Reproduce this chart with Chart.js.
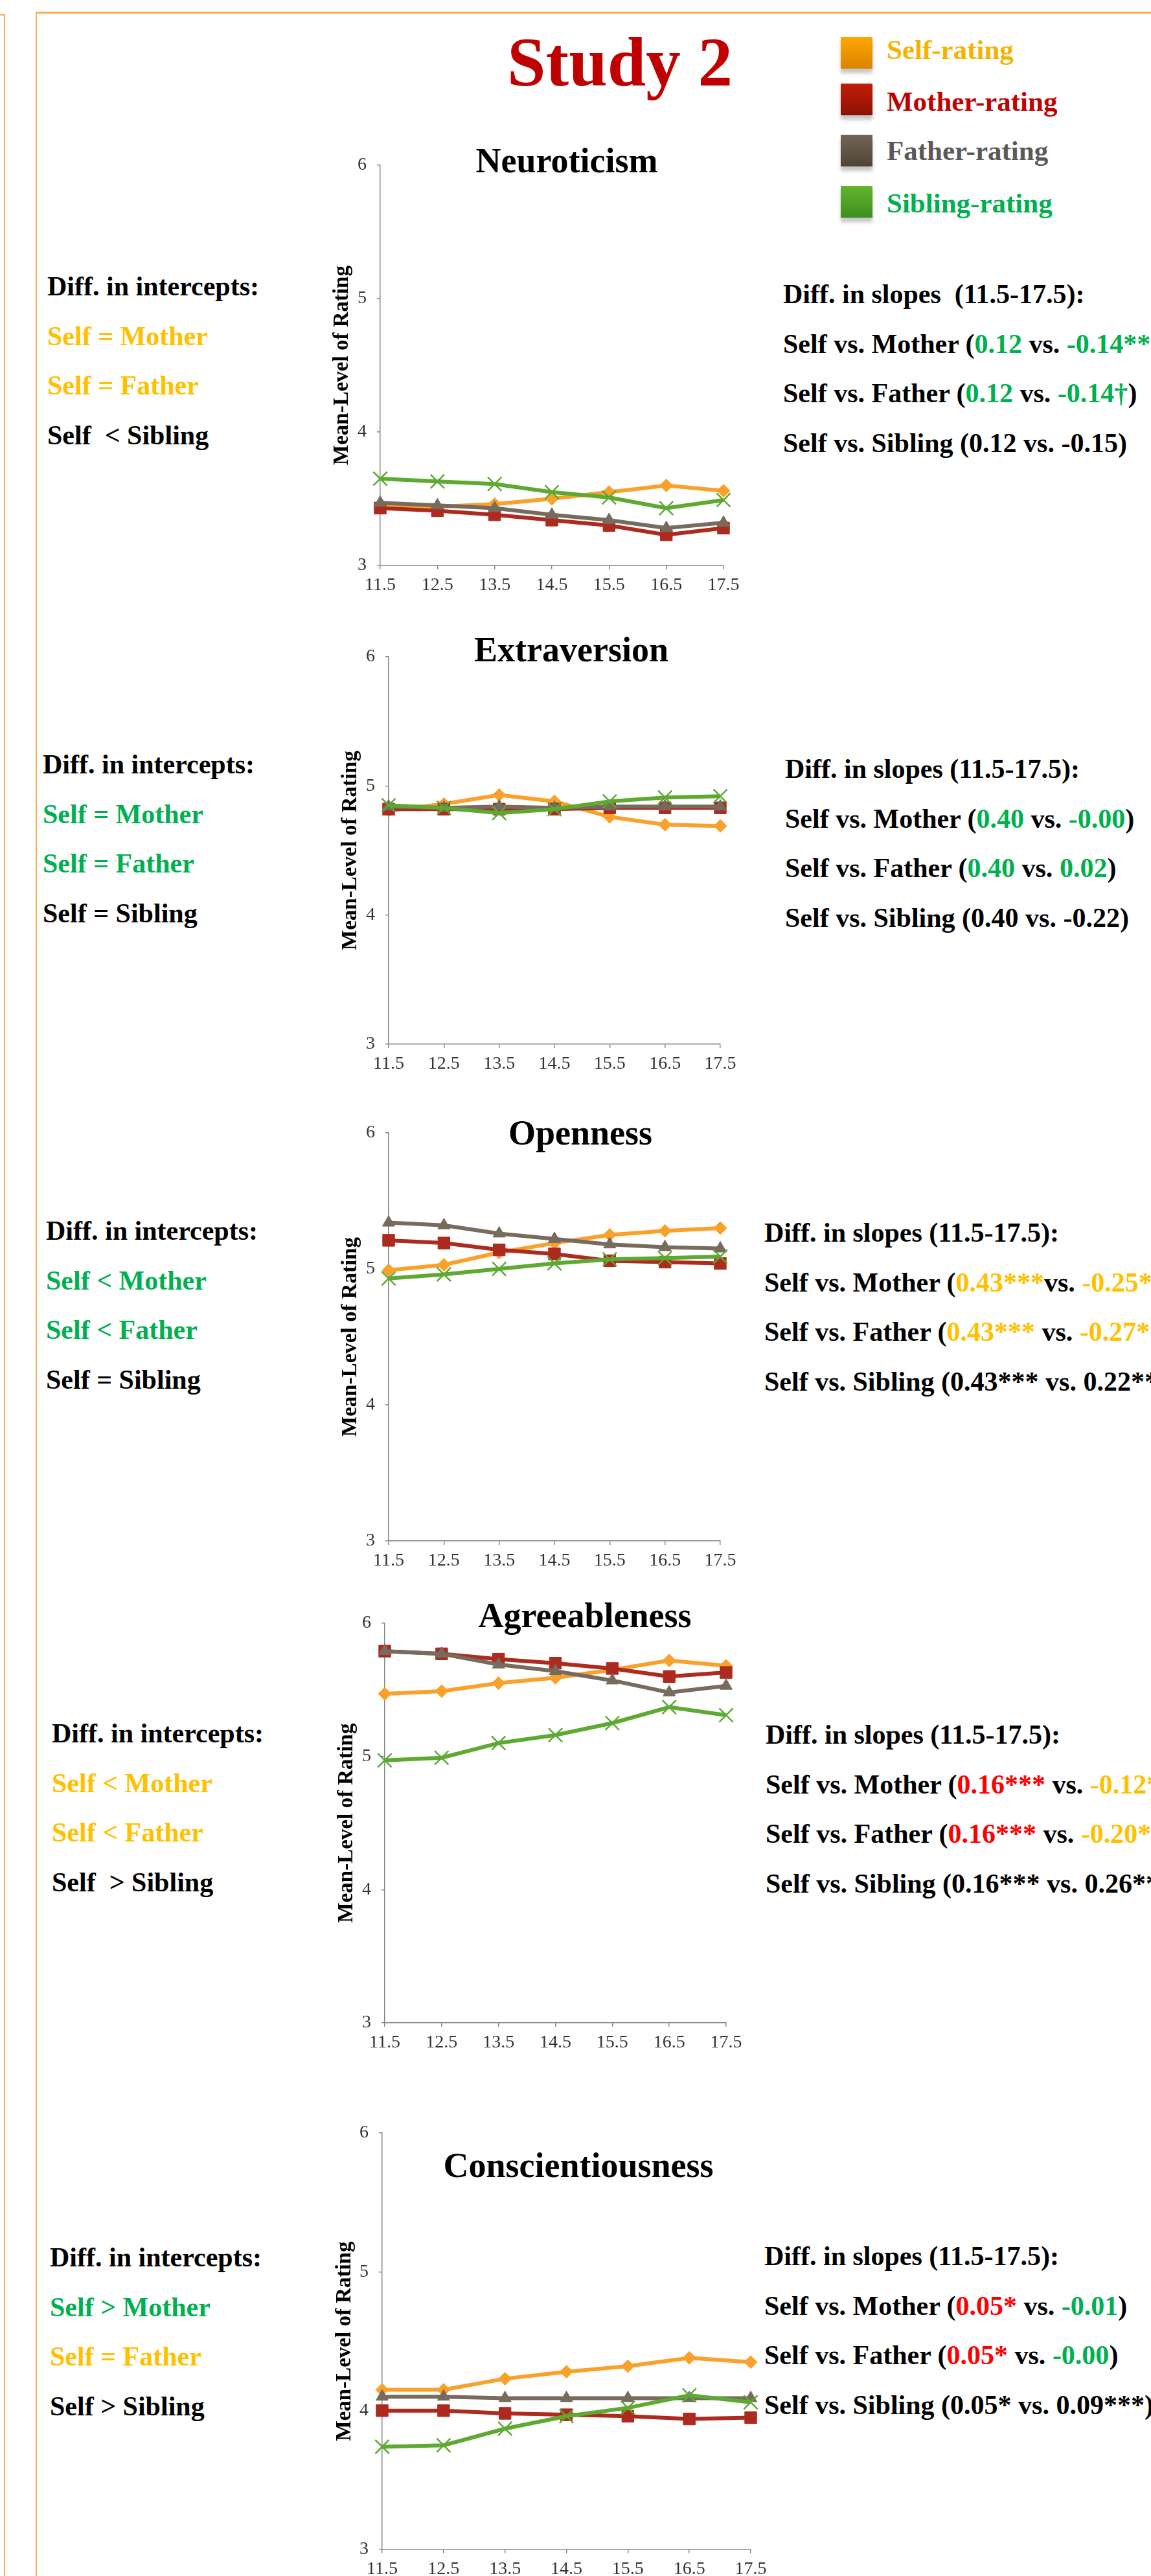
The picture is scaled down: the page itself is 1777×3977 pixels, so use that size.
<!DOCTYPE html>
<html>
<head>
<meta charset="utf-8">
<script src="https://cdn.jsdelivr.net/npm/chart.js@4.4.1/dist/chart.umd.min.js"></script>
<style>
  html, body { margin: 0; padding: 0; background: #fff; }
  body { width: 1777px; height: 3977px; position: relative; overflow: hidden;
         font-family: "Liberation Serif", "Times New Roman", serif; }
  .frame { position: absolute; background: #F9AC52; }
  canvas { position: absolute; }
  .note { position: absolute; font-weight: bold; font-size: 42px; line-height: 76.5px; white-space: pre; }
  .trait { position: absolute; font-weight: bold; font-size: 54px; line-height: 54px; white-space: pre;
           transform: translateX(-50%); color: #000; }
  .study { position: absolute; font-weight: bold; font-size: 107px; line-height: 107px; color: #C00000;
           transform: translateX(-50%); white-space: pre; }
  .swatch { position: absolute; width: 49px; height: 49px; box-shadow: 0 7px 5px rgba(0,0,0,0.22); }
  .legtext { position: absolute; font-weight: bold; font-size: 43px; line-height: 43px; white-space: pre; }
</style>
</head>
<body>

<div class="frame" style="left:6px; top:22px; width:2px; height:3955px;"></div>
<div class="frame" style="left:0; top:22px; width:8px; height:2px;"></div>
<div class="frame" style="left:55px; top:18px; width:2px; height:3959px;"></div>
<div class="frame" style="left:55px; top:18px; width:1722px; height:3px;"></div>

<script>
// x categories (age) and y ticks
const ages = ["11.5", "12.5", "13.5", "14.5", "15.5", "16.5", "17.5"];
const yTicks = [3, 4, 5, 6];
const seriesNames = ["Self-rating", "Mother-rating", "Father-rating", "Sibling-rating"];
const traits = ["Neuroticism", "Extraversion", "Openness", "Agreeableness", "Conscientiousness"];

// Neuroticism
const neuroSelf    = [3.45, 3.44, 3.46, 3.50, 3.55, 3.60, 3.56];
const neuroMother  = [3.43, 3.41, 3.38, 3.34, 3.30, 3.23, 3.28];
const neuroFather  = [3.47, 3.45, 3.43, 3.38, 3.34, 3.28, 3.32];
const neuroSibling = [3.65, 3.63, 3.61, 3.55, 3.51, 3.43, 3.49];

// Extraversion
const extraSelf    = [4.81, 4.86, 4.93, 4.88, 4.76, 4.70, 4.69];
const extraMother  = [4.82, 4.82, 4.82, 4.82, 4.83, 4.83, 4.83];
const extraFather  = [4.84, 4.83, 4.84, 4.83, 4.84, 4.84, 4.84];
const extraSibling = [4.85, 4.83, 4.79, 4.82, 4.88, 4.91, 4.92];

// Openness
const openSelf    = [4.99, 5.03, 5.12, 5.19, 5.25, 5.28, 5.30];
const openMother  = [5.21, 5.19, 5.14, 5.11, 5.06, 5.05, 5.04];
const openFather  = [5.34, 5.32, 5.26, 5.22, 5.18, 5.16, 5.15];
const openSibling = [4.93, 4.96, 5.00, 5.04, 5.07, 5.08, 5.09];

// Agreeableness
const agreeSelf    = [5.47, 5.49, 5.55, 5.59, 5.65, 5.72, 5.68];
const agreeMother  = [5.79, 5.77, 5.73, 5.70, 5.66, 5.60, 5.63];
const agreeFather  = [5.79, 5.77, 5.69, 5.64, 5.57, 5.48, 5.53];
const agreeSibling = [4.97, 4.99, 5.10, 5.16, 5.25, 5.37, 5.31];

// Conscientiousness
const consSelf    = [4.15, 4.15, 4.23, 4.28, 4.32, 4.38, 4.35];
const consMother  = [4.00, 4.00, 3.98, 3.97, 3.96, 3.94, 3.95];
const consFather  = [4.10, 4.10, 4.09, 4.09, 4.09, 4.09, 4.09];
const consSibling = [3.74, 3.75, 3.87, 3.96, 4.02, 4.11, 4.06];

const traitData = [
  [neuroSelf, neuroMother, neuroFather, neuroSibling],
  [extraSelf, extraMother, extraFather, extraSibling],
  [openSelf, openMother, openFather, openSibling],
  [agreeSelf, agreeMother, agreeFather, agreeSibling],
  [consSelf, consMother, consFather, consSibling]
];

// ---- styles and layout ----
const seriesStyle = [
  { color: "#F9A12A", point: "rectRot",  radius: 10, border: 1 },
  { color: "#AD2A1E", point: "rect",     radius: 13, border: 1 },
  { color: "#766B5D", point: "triangle", radius: 11, border: 1 },
  { color: "#5DA932", point: "crossRot", radius: 15, border: 2.5 }
];
const swatchFill = [
  "linear-gradient(#FFA600, #DC8400)",
  "linear-gradient(#C21E08, #8C1204)",
  "linear-gradient(#716654, #4F4536)",
  "linear-gradient(#62B42E, #3F8F1F)"
];
const legendTextColor = ["#F5B300", "#C00000", "#595959", "#00B050"];

// plot box of each panel: axis left/right x, y of "6" and "3"
const panels = [
  { L: 587, R: 1117, T: 254.5, B: 873,  titleX: 875, titleBase: 266,  yTitleX: 528 },
  { L: 600, R: 1112, T: 1014,  B: 1612, titleX: 882, titleBase: 1021, yTitleX: 541 },
  { L: 600, R: 1112, T: 1749,  B: 2379, titleX: 896, titleBase: 1767, yTitleX: 541 },
  { L: 594, R: 1121, T: 2506,  B: 3123, titleX: 903, titleBase: 2512, yTitleX: 535 },
  { L: 590, R: 1159, T: 3293,  B: 3936, titleX: 893, titleBase: 3361, yTitleX: 532 }
];

const YEL = "#FFC000", GRN = "#00B050", RED = "#FF0000", BLK = "#000000";

const leftNotes = [
  { x: 73, top: 404, lines: [[["Diff. in intercepts:", BLK]], [["Self = Mother", YEL]], [["Self = Father", YEL]], [["Self  < Sibling", BLK]]] },
  { x: 66, top: 1142, lines: [[["Diff. in intercepts:", BLK]], [["Self = Mother", GRN]], [["Self = Father", GRN]], [["Self = Sibling", BLK]]] },
  { x: 71, top: 1862, lines: [[["Diff. in intercepts:", BLK]], [["Self < Mother", GRN]], [["Self < Father", GRN]], [["Self = Sibling", BLK]]] },
  { x: 80, top: 2638, lines: [[["Diff. in intercepts:", BLK]], [["Self < Mother", YEL]], [["Self < Father", YEL]], [["Self  > Sibling", BLK]]] },
  { x: 77, top: 3447, lines: [[["Diff. in intercepts:", BLK]], [["Self > Mother", GRN]], [["Self = Father", YEL]], [["Self > Sibling", BLK]]] }
];

const rightNotes = [
  { x: 1209, top: 416, lines: [
    [["Diff. in slopes  (11.5-17.5):", BLK]],
    [["Self vs. Mother (", BLK], ["0.12", GRN], [" vs. ", BLK], ["-0.14**", GRN], [")", BLK]],
    [["Self vs. Father (", BLK], ["0.12", GRN], [" vs. ", BLK], ["-0.14\u2020", GRN], [")", BLK]],
    [["Self vs. Sibling (0.12 vs. -0.15)", BLK]] ] },
  { x: 1212, top: 1149, lines: [
    [["Diff. in slopes (11.5-17.5):", BLK]],
    [["Self vs. Mother (", BLK], ["0.40", GRN], [" vs. ", BLK], ["-0.00", GRN], [")", BLK]],
    [["Self vs. Father (", BLK], ["0.40", GRN], [" vs. ", BLK], ["0.02", GRN], [")", BLK]],
    [["Self vs. Sibling (0.40 vs. -0.22)", BLK]] ] },
  { x: 1180, top: 1865, lines: [
    [["Diff. in slopes (11.5-17.5):", BLK]],
    [["Self vs. Mother (", BLK], ["0.43***", YEL], ["vs. ", BLK], ["-0.25***", YEL], [")", BLK]],
    [["Self vs. Father (", BLK], ["0.43***", YEL], [" vs. ", BLK], ["-0.27***", YEL], [")", BLK]],
    [["Self vs. Sibling (0.43*** vs. 0.22***)", BLK]] ] },
  { x: 1182, top: 2640, lines: [
    [["Diff. in slopes (11.5-17.5):", BLK]],
    [["Self vs. Mother (", BLK], ["0.16***", RED], [" vs. ", BLK], ["-0.12**", YEL], [")", BLK]],
    [["Self vs. Father (", BLK], ["0.16***", RED], [" vs. ", BLK], ["-0.20***", YEL], [")", BLK]],
    [["Self vs. Sibling (0.16*** vs. 0.26***)", BLK]] ] },
  { x: 1180, top: 3445, lines: [
    [["Diff. in slopes (11.5-17.5):", BLK]],
    [["Self vs. Mother (", BLK], ["0.05*", RED], [" vs. ", BLK], ["-0.01", GRN], [")", BLK]],
    [["Self vs. Father (", BLK], ["0.05*", RED], [" vs. ", BLK], ["-0.00", GRN], [")", BLK]],
    [["Self vs. Sibling (0.05* vs. 0.09***)", BLK]] ] }
];

function addNote(note) {
  const div = document.createElement("div");
  div.className = "note";
  div.style.left = note.x + "px";
  div.style.top = note.top + "px";
  note.lines.forEach(function (line) {
    const row = document.createElement("div");
    line.forEach(function (seg) {
      const s = document.createElement("span");
      s.textContent = seg[0];
      s.style.color = seg[1];
      row.appendChild(s);
    });
    div.appendChild(row);
  });
  document.body.appendChild(div);
}
leftNotes.forEach(addNote);
rightNotes.forEach(addNote);

// Study title and legend
const study = document.createElement("div");
study.className = "study";
study.textContent = "Study 2";
study.style.left = "957px";
study.style.top = (133 - 0.8375 * 107) + "px";
document.body.appendChild(study);

const legendTop = [57, 129, 208, 287];
const legendBase = [91, 171, 247, 328];
seriesNames.forEach(function (name, i) {
  const sw = document.createElement("div");
  sw.className = "swatch";
  sw.style.left = "1298px";
  sw.style.top = legendTop[i] + "px";
  sw.style.background = swatchFill[i];
  document.body.appendChild(sw);

  const t = document.createElement("div");
  t.className = "legtext";
  t.textContent = name;
  t.style.left = "1369px";
  t.style.top = (legendBase[i] - 0.8375 * 43) + "px";
  t.style.color = legendTextColor[i];
  document.body.appendChild(t);
});

// ---- charts ----
Chart.defaults.font.family = '"Liberation Serif", "Times New Roman", serif';
const AXIS = "#868686";
const CANVAS_LEFT = 470, PAD_TOP = 40, PAD_RIGHT = 50, X_AXIS_H = 70;

panels.forEach(function (p, k) {
  // trait title
  const tt = document.createElement("div");
  tt.className = "trait";
  tt.textContent = traits[k];
  tt.style.left = p.titleX + "px";
  tt.style.top = (p.titleBase - 0.8375 * 54) + "px";
  tt.style.zIndex = 2;

  const canvas = document.createElement("canvas");
  const w = p.R - CANVAS_LEFT + PAD_RIGHT;
  const h = p.B - p.T + PAD_TOP + X_AXIS_H;
  canvas.width = w;
  canvas.height = h;
  canvas.style.left = CANVAS_LEFT + "px";
  canvas.style.top = (p.T - PAD_TOP) + "px";
  canvas.style.width = w + "px";
  canvas.style.height = h + "px";
  document.body.appendChild(canvas);
  document.body.appendChild(tt);

  const yAxisW = p.L - CANVAS_LEFT;
  const yTitleFont = 33;

  const datasets = traitData[k].map(function (values, i) {
    const st = seriesStyle[i];
    return {
      label: seriesNames[i],
      data: values,
      borderColor: st.color,
      backgroundColor: st.color,
      borderWidth: 6,
      pointStyle: st.point,
      pointRadius: st.radius,
      pointBorderWidth: st.border,
      pointBackgroundColor: st.color,
      pointBorderColor: st.color,
      tension: 0,
      clip: false,
      order: 4 - i
    };
  });

  new Chart(canvas.getContext("2d"), {
    type: "line",
    data: { labels: ages, datasets: datasets },
    options: {
      responsive: false,
      animation: false,
      devicePixelRatio: 1,
      layout: { padding: { top: PAD_TOP, right: PAD_RIGHT, left: 0, bottom: 0 } },
      plugins: { legend: { display: false }, tooltip: { enabled: false } },
      scales: {
        x: {
          grid: { drawOnChartArea: false, drawTicks: true, tickLength: 6, color: AXIS, lineWidth: 1.5 },
          border: { display: true, color: AXIS, width: 1.5 },
          ticks: { color: "#333333", font: { size: 28 }, padding: 8, maxRotation: 0, autoSkip: false },
          afterFit: function (s) { s.height = X_AXIS_H; }
        },
        y: {
          min: yTicks[0],
          max: yTicks[yTicks.length - 1],
          afterBuildTicks: function (s) { s.ticks = yTicks.map(function (v) { return { value: v }; }); },
          grid: { drawOnChartArea: false, drawTicks: true, tickLength: 5, color: AXIS, lineWidth: 1.5 },
          border: { display: true, color: AXIS, width: 1.5 },
          ticks: { color: "#333333", font: { size: 28 }, padding: 16 },
          title: {
            display: true,
            text: "Mean-Level of Rating",
            color: "#000",
            font: { size: yTitleFont, weight: "bold" },
            padding: { top: p.yTitleX - CANVAS_LEFT - yTitleFont * 0.6, bottom: 0 }
          },
          afterFit: function (s) { s.width = yAxisW; }
        }
      }
    }
  });
});
</script>
</body>
</html>
